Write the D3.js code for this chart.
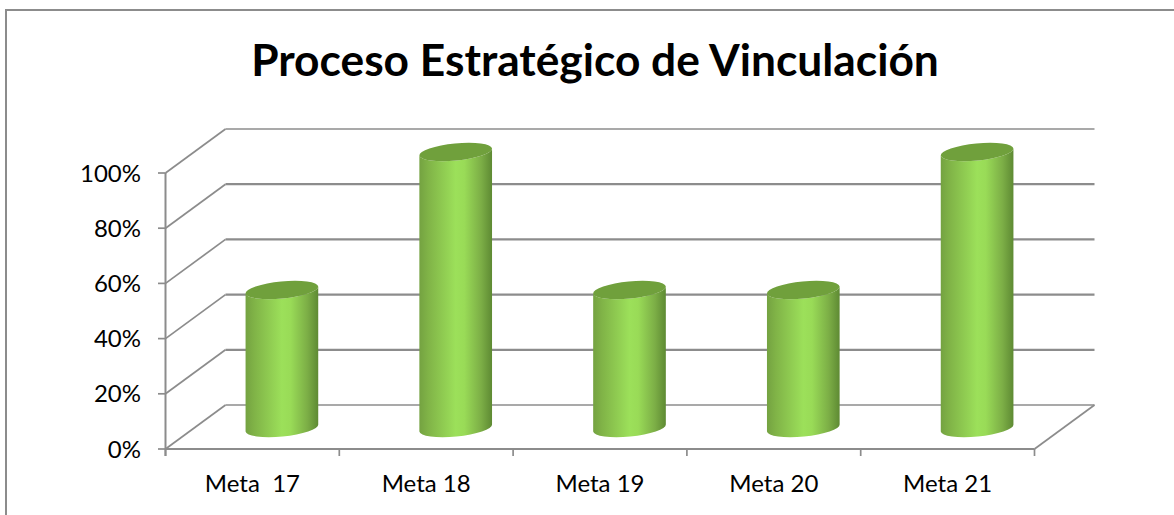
<!DOCTYPE html>
<html><head><meta charset="utf-8">
<script src="https://cdn.jsdelivr.net/npm/d3@7"></script>
<style>html,body{margin:0;background:#fff}svg{display:block}text{font-family:Lato,"Open Sans",sans-serif;fill:#000}</style>
</head><body><div id="c"></div>
<script>
const title = "Proceso Estratégico de Vinculación";
const categories = ["Meta  17","Meta 18","Meta 19","Meta 20","Meta 21"];
const values = [50,100,50,50,100];
const yTicks = [0,20,40,60,80,100];

const W=1174,H=515;
const svg=d3.select("#c").append("svg").attr("width",W).attr("height",H);
const depth={x:60,y:-44};
const x=d3.scaleBand().domain(categories).range([165.5,1034.5]);
const y=d3.scaleLinear().domain([0,100]).range([449,173]);
const rx=36.5, ry=8.5, tilt=-5.5;
const grey="#8c8c8c";

const defs=svg.append("defs");
const g=defs.append("linearGradient").attr("id","cyl").attr("x1",0).attr("x2",1).attr("y1",0).attr("y2",0);
[[0,"#74a241"],[0.12,"#80b347"],[0.5,"#9ce05a"],[0.62,"#99db57"],[0.85,"#7cae46"],[1,"#5e8a33"]]
 .forEach(([o,c])=>g.append("stop").attr("offset",o).attr("stop-color",c));

svg.append("rect").attr("x",6).attr("y",10).attr("width",1180).attr("height",520)
  .attr("fill","#fff").attr("stroke",grey).attr("stroke-width",2);

svg.append("text").attr("x",595).attr("y",76).attr("text-anchor","middle")
  .attr("font-size",44.3).attr("font-weight",700).text(title);

const grid=svg.append("g").attr("stroke",grey).attr("fill","none");
yTicks.forEach(t=>{
  const yy=y(t);
  grid.append("line").attr("x1",165.5).attr("y1",yy).attr("x2",165.5+depth.x).attr("y2",yy+depth.y).attr("stroke-width",1.7);
  grid.append("line").attr("x1",165.5+depth.x).attr("y1",yy+depth.y).attr("x2",1034.5+depth.x).attr("y2",yy+depth.y).attr("stroke-width",t===100||t===0?1.7:2.2);
});
grid.append("line").attr("x1",165.5).attr("y1",y(0)).attr("x2",1034.5).attr("y2",y(0)).attr("stroke-width",2);
grid.append("line").attr("x1",1034.5).attr("y1",y(0)).attr("x2",1034.5+depth.x).attr("y2",y(0)+depth.y).attr("stroke-width",1.7);
grid.append("line").attr("x1",165.5).attr("y1",y(0)+7).attr("x2",165.5).attr("y2",y(100)).attr("stroke-width",2);
yTicks.forEach(t=>grid.append("line").attr("x1",158).attr("x2",165.5).attr("y1",y(t)).attr("y2",y(t)).attr("stroke-width",1.7));
d3.range(6).forEach(i=>{
  const px=165.5+i*x.step();
  grid.append("line").attr("x1",px).attr("x2",px).attr("y1",y(0)).attr("y2",y(0)+7).attr("stroke-width",1.7);
});
svg.append("g").selectAll("text").data(yTicks).join("text")
  .attr("x",141).attr("y",d=>y(d)+8.5).attr("text-anchor","end").attr("font-size",24).text(d=>d+"%");
svg.append("g").selectAll("text").data(categories).join("text")
  .attr("x",d=>x(d)+x.bandwidth()/2).attr("y",492).attr("text-anchor","middle")
  .attr("font-size",24).style("white-space","pre").text(d=>d);

const tiltR=tilt*Math.PI/180;
const dx=rx*Math.cos(tiltR), dy=rx*Math.sin(tiltR);
const bars=svg.append("g").selectAll("g").data(categories.map((c,i)=>({c,v:values[i]}))).join("g");
bars.each(function(d){
  const cx=x(d.c)+x.bandwidth()/2+29.5;
  const by=y(0)+depth.y/2+1, ty=y(d.v)+depth.y/2+1;
  const s=d3.select(this);
  s.append("path").attr("fill","url(#cyl)")
   .attr("d",`M${cx-dx},${ty-dy}L${cx-dx},${by-dy}A${rx},${ry} ${tilt} 0 0 ${cx+dx},${by+dy}L${cx+dx},${ty+dy}A${rx},${ry} ${tilt} 0 1 ${cx-dx},${ty-dy}Z`);
  s.append("ellipse").attr("cx",cx).attr("cy",ty).attr("rx",rx).attr("ry",ry)
   .attr("transform",`rotate(${tilt} ${cx} ${ty})`).attr("fill","#70a03c");
});
</script></body></html>
